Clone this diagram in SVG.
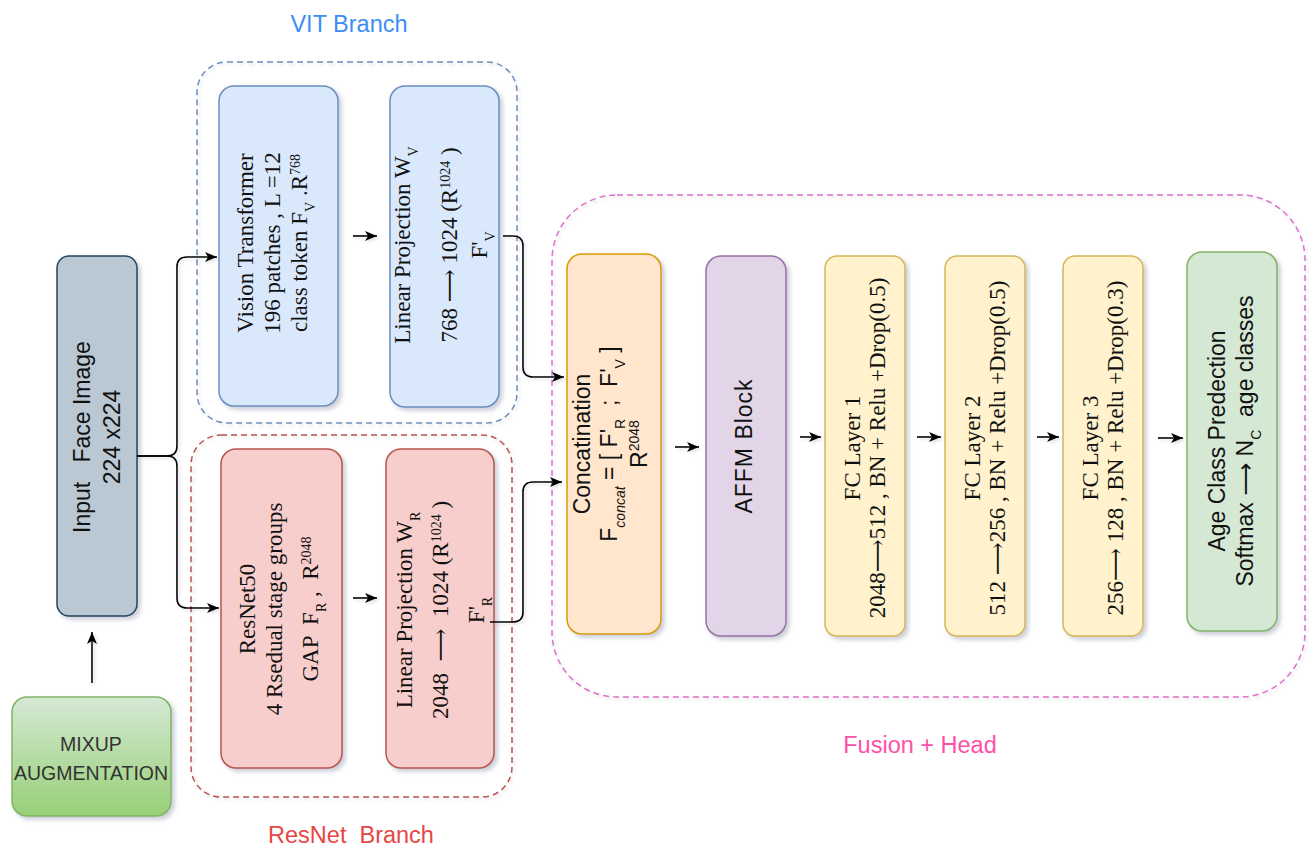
<svg xmlns="http://www.w3.org/2000/svg" width="1309" height="846" viewBox="0 0 1309 846">
<style>
.serif{font-family:"Liberation Serif","DejaVu Serif",serif;font-size:23px;fill:#111}
.sans{font-family:"Liberation Sans","DejaVu Sans",sans-serif;font-size:23px;fill:#111}
.sub{font-size:14px}
.sup{font-size:14px}
.box{stroke-width:1.5}
.cont{fill:none;stroke-width:1.5;stroke-dasharray:6 4}
.conn{fill:none;stroke:#000;stroke-width:1.6}
.lbl{font-family:"Liberation Sans","DejaVu Sans",sans-serif;font-size:23.5px;text-anchor:middle}
</style>
<defs>
<filter id="sh" x="-20%" y="-20%" width="140%" height="140%">
<feDropShadow dx="3" dy="3" stdDeviation="2" flood-color="#6a7390" flood-opacity="0.35"/>
</filter>
<filter id="shl" x="-10%" y="-10%" width="120%" height="120%">
<feDropShadow dx="2" dy="2" stdDeviation="1.5" flood-color="#888" flood-opacity="0.25"/>
</filter>
<linearGradient id="gMix" x1="0" y1="0" x2="0" y2="1">
<stop offset="0" stop-color="#d5e8d4"/>
<stop offset="1" stop-color="#97d077"/>
</linearGradient>
<marker id="ah" viewBox="0 0 12 10" refX="12" refY="5" markerWidth="12" markerHeight="10" markerUnits="userSpaceOnUse" orient="auto">
<path d="M0,0 L12,5 L0,10 L3,5 Z" fill="#000"/>
</marker>
</defs>
<rect width="1309" height="846" fill="#fff"/>

<!-- Containers -->
<g id="vit-branch">
<rect class="cont" x="197" y="62" width="320" height="361" rx="30" stroke="#6c8ebf" filter="url(#shl)"/>
<text class="lbl" x="349" y="32" fill="#3d8ef2">VIT Branch</text>
</g>
<g id="resnet-branch">
<rect class="cont" x="191" y="435" width="321" height="362" rx="30" stroke="#b85450" filter="url(#shl)"/>
<text class="lbl" x="351" y="843" fill="#e84545" xml:space="preserve">ResNet  Branch</text>
</g>
<g id="fusion-head">
<rect class="cont" x="552" y="195" width="753" height="502" rx="65" stroke="#dd6fcc" filter="url(#shl)"/>
<text class="lbl" x="920" y="753" fill="#ff4fa8">Fusion + Head</text>
</g>

<!-- Nodes -->
<g id="mixup">
<rect class="box" x="12" y="697" width="159" height="119" rx="15" fill="url(#gMix)" stroke="#82b366" filter="url(#sh)"/>
<text class="sans" x="91" y="751" text-anchor="middle" style="font-size:19.5px;fill:#333">MIXUP</text>
<text class="sans" x="91" y="780" text-anchor="middle" style="font-size:19.5px;fill:#333">AUGMENTATION</text>
</g>

<g id="input">
<rect class="box" x="57" y="256" width="80" height="360" rx="12" fill="#bac8d3" stroke="#23445d" filter="url(#sh)"/>
<g transform="translate(97,437) rotate(-90)">
<text class="sans" text-anchor="middle" xml:space="preserve"><tspan x="0" y="-7">Input   Face Image</tspan><tspan x="0" y="23">224 x224</tspan></text>
</g>
</g>

<g id="vit">
<rect class="box" x="219" y="86" width="119" height="320" rx="15" fill="#dae8fc" stroke="#6c8ebf" filter="url(#sh)"/>
<g transform="translate(278,243) rotate(-90)">
<text class="serif" text-anchor="middle"><tspan x="0" y="-25">Vision Transformer</tspan><tspan x="0" y="2">196 patches , L =12</tspan><tspan x="0" y="29">class token F<tspan class="sub" baseline-shift="sub">V</tspan> .R<tspan class="sup" baseline-shift="super">768</tspan></tspan></text>
</g>
</g>

<g id="proj-v">
<rect class="box" x="390" y="86" width="109" height="321" rx="15" fill="#dae8fc" stroke="#6c8ebf" filter="url(#sh)"/>
<g transform="translate(444,245) rotate(-90)">
<text class="serif" text-anchor="middle"><tspan x="0" y="-34">Linear Projection W<tspan class="sub" baseline-shift="sub">V</tspan></tspan><tspan x="0" y="13">768 ⟶ 1024 (R<tspan class="sup" baseline-shift="super">1024</tspan> )</tspan><tspan x="0" y="43">F'<tspan class="sub" baseline-shift="sub">V</tspan></tspan></text>
</g>
</g>

<g id="resnet">
<rect class="box" x="221" y="449" width="121" height="319" rx="15" fill="#f8cecc" stroke="#b85450" filter="url(#sh)"/>
<g transform="translate(281,609) rotate(-90)">
<text class="serif" text-anchor="middle" xml:space="preserve"><tspan x="0" y="-26">ResNet50</tspan><tspan x="0" y="1">4 Rsedual stage groups</tspan><tspan x="0" y="37">GAP  F<tspan class="sub" baseline-shift="sub">R</tspan> ,  R<tspan class="sup" baseline-shift="super">2048</tspan></tspan></text>
</g>
</g>

<g id="proj-r">
<rect class="box" x="386" y="449" width="108" height="319" rx="15" fill="#f8cecc" stroke="#b85450" filter="url(#sh)"/>
<g transform="translate(440,610) rotate(-90)">
<text class="serif" text-anchor="middle" xml:space="preserve"><tspan x="0" y="-28">Linear Projection W<tspan class="sub" baseline-shift="sub">R</tspan></tspan><tspan x="0" y="8">2048  ⟶  1024 (R<tspan class="sup" baseline-shift="super">1024</tspan> )</tspan><tspan x="0" y="44">F'<tspan class="sub" baseline-shift="sub">R</tspan></tspan></text>
</g>
</g>

<g id="concat">
<rect class="box" x="567" y="254" width="94" height="380" rx="15" fill="#ffe6cc" stroke="#d79b00" filter="url(#sh)"/>
<g transform="translate(614,444) rotate(-90)">
<text class="sans" text-anchor="middle" xml:space="preserve"><tspan x="0" y="-24">Concatination</tspan><tspan x="0" y="3">F<tspan class="sub" baseline-shift="sub" font-style="italic">concat</tspan> = [ F'<tspan class="sub" baseline-shift="sub">R</tspan>  ;  F'<tspan class="sub" baseline-shift="sub">V</tspan> ]</tspan><tspan x="0" y="33">R<tspan class="sup" baseline-shift="super">2048</tspan></tspan></text>
</g>
</g>

<g id="affm">
<rect class="box" x="706" y="256" width="80" height="380" rx="15" fill="#e1d5e7" stroke="#9673a6" filter="url(#sh)"/>
<g transform="translate(746,446) rotate(-90)">
<text class="sans" text-anchor="middle" x="0" y="6" letter-spacing="1">AFFM Block</text>
</g>
</g>

<g id="fc1">
<rect class="box" x="825" y="256" width="80" height="380" rx="12" fill="#fff2cc" stroke="#d6b656" filter="url(#sh)"/>
<g transform="translate(865,448) rotate(-90)">
<text class="serif" text-anchor="middle"><tspan x="0" y="-5">FC Layer 1</tspan><tspan x="0" y="20">2048⟶512 , BN + Relu +Drop(0.5)</tspan></text>
</g>
</g>

<g id="fc2">
<rect class="box" x="945" y="256" width="80" height="380" rx="12" fill="#fff2cc" stroke="#d6b656" filter="url(#sh)"/>
<g transform="translate(985,448) rotate(-90)">
<text class="serif" text-anchor="middle"><tspan x="0" y="-5">FC Layer 2</tspan><tspan x="0" y="20">512 ⟶256 , BN + Relu +Drop(0.5)</tspan></text>
</g>
</g>

<g id="fc3">
<rect class="box" x="1063" y="256" width="80" height="380" rx="12" fill="#fff2cc" stroke="#d6b656" filter="url(#sh)"/>
<g transform="translate(1103,448) rotate(-90)">
<text class="serif" text-anchor="middle"><tspan x="0" y="-5">FC Layer 3</tspan><tspan x="0" y="20">256⟶ 128 , BN + Relu +Drop(0.3)</tspan></text>
</g>
</g>

<g id="age">
<rect class="box" x="1187" y="252" width="90" height="379" rx="15" fill="#d5e8d4" stroke="#82b366" filter="url(#sh)"/>
<g transform="translate(1232,441) rotate(-90)">
<text class="sans" text-anchor="middle" xml:space="preserve"><tspan x="0" y="-7">Age Class Predection</tspan><tspan x="0" y="21">Softmax ⟶ N<tspan class="sub" baseline-shift="sub">C</tspan>  age classes</tspan></text>
</g>
</g>

<!-- Connectors -->
<g id="connectors" filter="url(#shl)">
<path class="conn" d="M92,683 V632" marker-end="url(#ah)"/>
<path class="conn" d="M137,456 H167 Q177,456 177,446 V267 Q177,257 187,257 H217" marker-end="url(#ah)"/>
<path class="conn" d="M137,456 H167 Q177,456 177,466 V598 Q177,608 187,608 H219" marker-end="url(#ah)"/>
<path class="conn" d="M353,236 H377" marker-end="url(#ah)"/>
<path class="conn" d="M353,598 H377" marker-end="url(#ah)"/>
<path class="conn" d="M503,236 H513 Q523,236 523,246 V367 Q523,377 533,377 H564" marker-end="url(#ah)"/>
<path class="conn" d="M490,622 H513 Q523,622 523,612 V492 Q523,482 533,482 H562" marker-end="url(#ah)"/>
<path class="conn" d="M675,447 H699" marker-end="url(#ah)"/>
<path class="conn" d="M800,437 H821" marker-end="url(#ah)"/>
<path class="conn" d="M917,437 H941" marker-end="url(#ah)"/>
<path class="conn" d="M1037,437 H1059" marker-end="url(#ah)"/>
<path class="conn" d="M1158,438 H1183" marker-end="url(#ah)"/>
</g>
</svg>
